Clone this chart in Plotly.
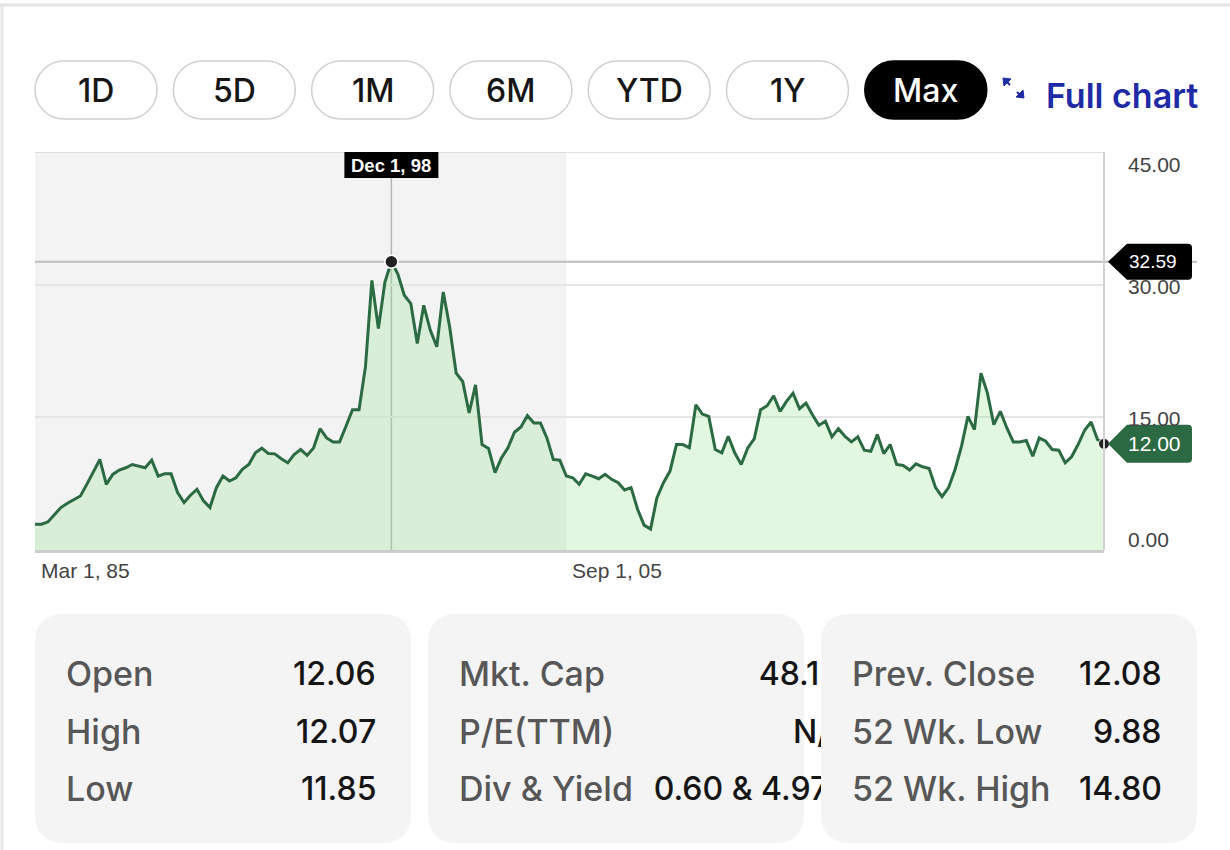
import plotly.graph_objects as go
import pandas as pd

W, H = 1230, 850

# ---------------- data ----------------
start_date = "1985-03-01"
shade_end_date = "2005-09-01"
x_tick_dates = ["1985-03-01", "2005-09-01"]
y_ticks = [0, 15, 30, 45]

values = [
    2.92, 2.92, 3.19, 4.05, 4.80, 5.29, 5.66, 6.11, 7.42, 8.92,
    10.24, 7.42, 8.55, 9.04, 9.30, 9.67, 9.49, 9.30, 10.16, 8.36,
    8.62, 8.62, 6.49, 5.36, 6.19, 6.86, 5.55, 4.80, 7.05, 8.36,
    7.80, 8.17, 9.11, 9.67, 10.99, 11.51, 10.91, 10.87, 10.31, 9.86,
    10.80, 11.36, 10.69, 11.55, 13.72, 12.67, 12.22, 12.22, 13.99, 15.86,
    15.86, 20.73, 30.48, 25.05, 30.30, 32.59,
    31.23, 28.80, 27.86, 23.36, 27.67, 24.86, 22.98, 29.17, 25.23, 19.99,
    19.05, 15.49, 18.67, 11.92, 11.47, 8.74, 10.42, 11.55, 13.31, 13.91,
    15.19, 14.36, 14.36, 12.67, 10.24, 10.16, 8.36, 8.17, 7.42, 8.62,
    8.36, 8.06, 8.55, 7.99, 7.61, 6.79, 7.05, 4.61, 2.81, 2.36,
    5.92, 7.61, 8.92, 11.92, 11.92, 11.55, 16.42, 15.37, 15.11, 11.36,
    10.99, 12.86, 10.99, 9.67, 11.55, 12.56,
    15.86, 16.31, 17.44, 15.67, 16.80, 17.74, 15.97, 16.61, 15.30, 14.10,
    14.55, 12.79, 13.72, 12.86, 12.22, 12.79, 11.29, 11.17, 13.05, 10.91,
    11.92, 9.67, 9.56, 9.04, 9.75, 9.41, 9.22, 7.05, 6.04, 7.05,
    9.11, 11.74, 15.11, 13.61, 19.99, 17.74, 14.17, 15.67, 13.80, 12.22,
    12.22, 12.37, 10.61, 12.67, 12.30, 11.36, 11.29, 9.86, 10.54, 11.92,
    13.54, 14.47, 12.49, 12.00,
]

range_buttons = ["1D", "5D", "1M", "6M", "YTD", "1Y", "Max"]
active_button = "Max"
link_text = "Full chart"

card1_labels = ["Open", "High", "Low"]
card1_values = ["12.06", "12.07", "11.85"]
card2_labels = ["Mkt. Cap", "P/E(TTM)", "Div & Yield"]
card2_values = ["48.12B", "N/A", "0.60 & 4.97%"]
card3_labels = ["Prev. Close", "52 Wk. Low", "52 Wk. High"]
card3_values = ["12.08", "9.88", "14.80"]

dates = pd.date_range(start_date, periods=len(values), freq="3MS")

# ---------------- helpers ----------------
def fx(x):
    return x / W

def fy(y):
    return 1 - y / H

PLOT_L, PLOT_R, PLOT_T, PLOT_B = 35, 1104, 152, 550
YPX = (y_ticks[-1] - y_ticks[0]) / (PLOT_B - PLOT_T)   # data units per pixel
K = 0.5523

def rr_path(x0, y0, x1, y1, r):
    def P(x, y):
        return f"{fx(x):.6f},{fy(y):.6f}"
    k = r * (1 - K)
    return (f"M {P(x0 + r, y0)} L {P(x1 - r, y0)} "
            f"C {P(x1 - k, y0)} {P(x1, y0 + k)} {P(x1, y0 + r)} "
            f"L {P(x1, y1 - r)} "
            f"C {P(x1, y1 - k)} {P(x1 - k, y1)} {P(x1 - r, y1)} "
            f"L {P(x0 + r, y1)} "
            f"C {P(x0 + k, y1)} {P(x0, y1 - k)} {P(x0, y1 - r)} "
            f"L {P(x0, y0 + r)} "
            f"C {P(x0, y0 + k)} {P(x0 + k, y0)} {P(x0 + r, y0)} Z")

def tag_path(v, half_h, tip=1108, body=1127, right=1192, r=4):
    dy = half_h * YPX
    ry = r * YPX
    return (f"M {fx(tip):.6f},{v:.4f} L {fx(body):.6f},{v + dy:.4f} "
            f"L {fx(right - r):.6f},{v + dy:.4f} Q {fx(right):.6f},{v + dy:.4f} {fx(right):.6f},{v + dy - ry:.4f} "
            f"L {fx(right):.6f},{v - dy + ry:.4f} Q {fx(right):.6f},{v - dy:.4f} {fx(right - r):.6f},{v - dy:.4f} "
            f"L {fx(body):.6f},{v - dy:.4f} Z")

def fmt_date(d):
    d = pd.Timestamp(d)
    return f"{d:%b} {d.day}, {d:%y}"

LINE_GREEN = "#2b6a43"
CHART_FONT = "Liberation Sans, Arial, sans-serif"
UI_FONT = "Inter, Roboto, sans-serif"

peak_idx = max(range(len(values)), key=lambda i: values[i])
peak_date, peak_val = dates[peak_idx], values[peak_idx]
last_date, last_val = dates[-1], values[-1]

fig = go.Figure()

# area + line
fig.add_trace(go.Scatter(
    x=dates, y=values, mode="lines", fill="tozeroy",
    fillcolor="rgba(150,228,140,0.28)",
    line=dict(color=LINE_GREEN, width=3), hoverinfo="skip",
))
# peak dot and last dot
fig.add_trace(go.Scatter(
    x=[peak_date], y=[peak_val], mode="markers",
    marker=dict(color="#222222", size=13, line=dict(color="white", width=1.5)),
    hoverinfo="skip", cliponaxis=False,
))
fig.add_trace(go.Scatter(
    x=[last_date], y=[last_val], mode="markers",
    marker=dict(color="#222222", size=11, line=dict(color="white", width=1)),
    hoverinfo="skip", cliponaxis=False,
))
# card-2 values (clipped by their own subplot, like the overflow in the reference)
fig.add_trace(go.Scatter(
    x=[860, 851, 860], y=[677, 735, 792], text=card2_values,
    mode="text", textposition="middle left",
    textfont=dict(family=UI_FONT, size=32, color="#151515", weight=500),
    xaxis="x2", yaxis="y2", cliponaxis=True, hoverinfo="skip",
))

shapes = []
annotations = []

# page frame
shapes.append(dict(type="line", xref="paper", yref="paper", x0=0, x1=1, y0=fy(5), y1=fy(5),
                   line=dict(color="#e4e4e4", width=3), layer="below"))
shapes.append(dict(type="line", xref="paper", yref="paper", x0=fx(2), x1=fx(2), y0=fy(5), y1=0,
                   line=dict(color="#e8e8e8", width=3), layer="below"))

# range buttons
for i, lab in enumerate(range_buttons):
    x0 = 35 + i * 138.3
    x1 = x0 + 122
    active = lab == active_button
    shapes.append(dict(type="path", xref="paper", yref="paper", path=rr_path(x0, 61, x1, 119, 29),
                       fillcolor="#000000" if active else "#ffffff",
                       line=dict(color="#000000" if active else "#d0d0d0", width=1.5), layer="below"))
    annotations.append(dict(x=fx((x0 + x1) / 2), y=fy(90.5), xref="paper", yref="paper",
                            text=lab, showarrow=False, xanchor="center", yanchor="middle",
                            font=dict(family=UI_FONT, size=32, weight=500,
                                      color="#ffffff" if active else "#161616")))

# full-chart icon + link
BLUE = "#1f2ba6"
for p in ["M {a} L {b} L {c} Z".format(a=f"{fx(1003):.6f},{fy(78):.6f}", b=f"{fx(1011):.6f},{fy(79):.6f}",
                                       c=f"{fx(1004):.6f},{fy(86):.6f}"),
          "M {a} L {b} L {c} Z".format(a=f"{fx(1024):.6f},{fy(98):.6f}", b=f"{fx(1016):.6f},{fy(97):.6f}",
                                       c=f"{fx(1023):.6f},{fy(90):.6f}")]:
    shapes.append(dict(type="path", xref="paper", yref="paper", path=p, fillcolor=BLUE,
                       line=dict(color=BLUE, width=1)))
shapes.append(dict(type="line", xref="paper", yref="paper", x0=fx(1006), y0=fy(81), x1=fx(1010), y1=fy(85),
                   line=dict(color=BLUE, width=2)))
shapes.append(dict(type="line", xref="paper", yref="paper", x0=fx(1017), y0=fy(92), x1=fx(1021), y1=fy(96),
                   line=dict(color=BLUE, width=2)))
annotations.append(dict(x=fx(1044), y=fy(96), xref="paper", yref="paper", text=link_text,
                        showarrow=False, xanchor="left", yanchor="middle",
                        font=dict(family=UI_FONT, size=34, color=BLUE, weight=600)))

# shaded period
shapes.append(dict(type="rect", xref="x", yref="y", x0=dates[0], x1=shade_end_date,
                   y0=y_ticks[0], y1=y_ticks[-1], fillcolor="#f3f3f4", line=dict(width=0), layer="below"))
# crosshair (under the series)
shapes.append(dict(type="line", xref="x", yref="y", x0=peak_date, x1=peak_date, y0=y_ticks[0], y1=y_ticks[-1],
                   line=dict(color="#b5b5b5", width=1.5), layer="below"))
shapes.append(dict(type="line", xref="x", yref="y", x0=dates[0], x1=dates[-1], y0=peak_val, y1=peak_val,
                   line=dict(color="#bdbdbd", width=2), layer="below"))
shapes.append(dict(type="line", xref="paper", yref="y", x0=fx(PLOT_R), x1=fx(1197), y0=peak_val, y1=peak_val,
                   line=dict(color="#bdbdbd", width=2), layer="below"))
# plot frame top and right
shapes.append(dict(type="line", xref="paper", yref="y", x0=fx(PLOT_L), x1=fx(PLOT_R), y0=y_ticks[-1], y1=y_ticks[-1],
                   line=dict(color="#d6d6d6", width=1.5)))
shapes.append(dict(type="line", xref="paper", yref="y", x0=fx(PLOT_R), x1=fx(PLOT_R), y0=y_ticks[0], y1=y_ticks[-1],
                   line=dict(color="#d2d2d2", width=2)))

# date label of the crosshair
shapes.append(dict(type="rect", xref="x", xsizemode="pixel", xanchor=peak_date, x0=-47, x1=47,
                   yref="paper", y0=fy(178), y1=fy(152), fillcolor="#000000", line=dict(width=0)))
annotations.append(dict(x=peak_date, y=fy(165.5), xref="x", yref="paper", text=fmt_date(peak_date),
                        showarrow=False, xanchor="center", yanchor="middle",
                        font=dict(family=CHART_FONT, size=18.5, color="white", weight=600)))

# price tags
shapes.append(dict(type="path", xref="paper", yref="y", path=tag_path(peak_val, 18),
                   fillcolor="#000000", line=dict(width=0)))
annotations.append(dict(x=fx(1153), y=peak_val, xref="paper", yref="y", text=f"{peak_val:.2f}",
                        showarrow=False, xanchor="center", yanchor="middle",
                        font=dict(family=CHART_FONT, size=19, color="white")))
shapes.append(dict(type="path", xref="paper", yref="y", path=tag_path(last_val, 19),
                   fillcolor=LINE_GREEN, line=dict(width=0)))

# y tick labels (inset at the extremes, like the reference)
for v in y_ticks:
    shift = -12 if v == y_ticks[-1] else (10.5 if v == y_ticks[0] else -1.5)
    annotations.append(dict(x=fx(1126), y=v, xref="paper", yref="y", text=f"{v:.2f}", yshift=shift,
                            showarrow=False, xanchor="left", yanchor="middle",
                            font=dict(family=CHART_FONT, size=21, color="#444444")))
annotations.append(dict(x=fx(1154), y=last_val, xref="paper", yref="y", text=f"{last_val:.2f}",
                        showarrow=False, xanchor="center", yanchor="middle",
                        font=dict(family=CHART_FONT, size=21, color="white")))

# x tick labels
for d in x_tick_dates:
    annotations.append(dict(x=d, y=fy(570), xref="x", yref="paper", text=fmt_date(d), xshift=4,
                            showarrow=False, xanchor="left", yanchor="middle",
                            font=dict(family=CHART_FONT, size=21, color="#444444")))

# stats cards
cards = [(card1_labels, card1_values), (card2_labels, None), (card3_labels, card3_values)]
rows_y = [673, 731, 788]
for j, (labs, vals) in enumerate(cards):
    x0 = 35 + j * 393
    x1 = x0 + 376
    shapes.append(dict(type="path", xref="paper", yref="paper", path=rr_path(x0, 614, x1, 843, 26),
                       fillcolor="#f4f4f4", line=dict(width=0), layer="below"))
    for r, lab in enumerate(labs):
        annotations.append(dict(x=fx(x0 + 29), y=fy(rows_y[r]), xref="paper", yref="paper", text=lab,
                                showarrow=False, xanchor="left", yanchor="middle",
                                font=dict(family=UI_FONT, size=34, color="#575757", weight=500)))
        if vals is not None:
            annotations.append(dict(x=fx(x1 - 33), y=fy(rows_y[r]), xref="paper", yref="paper", text=vals[r],
                                    showarrow=False, xanchor="right", yanchor="middle",
                                    font=dict(family=UI_FONT, size=32, color="#151515", weight=500)))

fig.update_layout(
    width=W, height=H, margin=dict(l=0, r=0, t=0, b=0),
    paper_bgcolor="white", plot_bgcolor="rgba(0,0,0,0)", showlegend=False,
    xaxis=dict(domain=[fx(PLOT_L), fx(PLOT_R)], range=[dates[0], dates[-1]], showgrid=False,
               showline=True, linecolor="#cccccc", linewidth=2.5, showticklabels=False, ticks="",
               zeroline=False, fixedrange=True),
    yaxis=dict(domain=[fy(PLOT_B), fy(PLOT_T)], range=[y_ticks[0], y_ticks[-1]], tickvals=y_ticks,
               showgrid=True, gridcolor="#e6e6e6", gridwidth=1.5, showticklabels=False, ticks="",
               zeroline=False, fixedrange=True),
    xaxis2=dict(domain=[fx(428), fx(821)], range=[428, 821], visible=False, anchor="y2", fixedrange=True),
    yaxis2=dict(domain=[fy(843), fy(614)], range=[843, 614], visible=False, anchor="x2", fixedrange=True),
    shapes=shapes, annotations=annotations,
)

fig.write_html("out.html", config={"displayModeBar": False})
